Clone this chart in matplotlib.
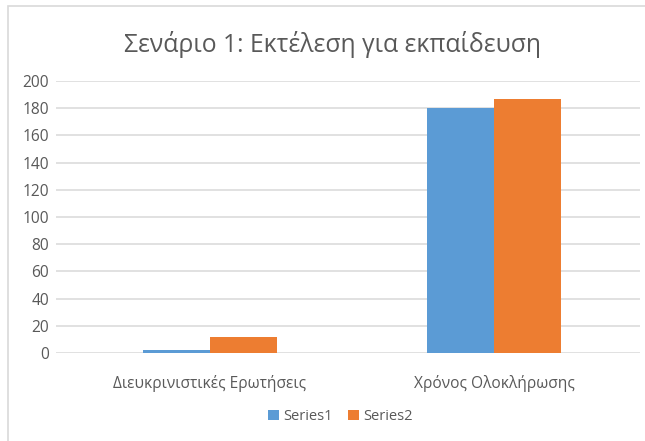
import numpy as np
import matplotlib.pyplot as plt
from matplotlib.patches import Rectangle

categories = ['Διευκρινιστικές Ερωτήσεις', 'Χρόνος Ολοκλήρωσης']
series1 = [2, 180]
series2 = [12, 187]
series_names = ['Series1', 'Series2']
yticks = [0, 20, 40, 60, 80, 100, 120, 140, 160, 180, 200]

plt.rcParams['font.family'] = ['Open Sans', 'DejaVu Sans']

W, H = 645, 441
fig = plt.figure(figsize=(W / 100, H / 100), dpi=100)
fig.patches.append(Rectangle((8 / W, -0.01), 1.1, 1 - 6 / H + 0.01, transform=fig.transFigure,
                             fill=False, edgecolor='#d9d9d9', linewidth=1.2))

ax = fig.add_axes([56 / W, 1 - 353 / H, (640 - 56) / W, (353 - 81) / H])
x = np.arange(len(categories))
w = 0.237
ax.bar(x - w / 2, series1, w, color='#5b9bd5', label=series_names[0], zorder=3)
ax.bar(x + w / 2, series2, w, color='#ed7d31', label=series_names[1], zorder=3)

ax.set_ylim(0, 200)
ax.set_xlim(-0.542, 1.514)
ax.set_yticks(yticks)
ax.yaxis.grid(True, color='#d9d9d9', linewidth=1.1, zorder=0)
ax.set_xticks(x)
ax.set_xticklabels(categories)
for s in ax.spines.values():
    s.set_visible(False)
ax.tick_params(axis='both', length=0, labelsize=11.2, colors='#595959')
ax.tick_params(axis='x', pad=16)
ax.tick_params(axis='y', pad=5)

fig.text(332 / W, 1 - 44 / H, 'Σενάριο 1: Εκτέλεση για εκπαίδευση', ha='center', va='center',
         fontsize=17.8, color='#595959')
ax.legend(loc='center', bbox_to_anchor=(0.487, -0.235), ncol=2, frameon=False, fontsize=10.5,
          labelcolor='#595959', handlelength=0.7, handleheight=0.7, handletextpad=0.3,
          columnspacing=1.1)

fig.savefig('out.png', dpi=100)
